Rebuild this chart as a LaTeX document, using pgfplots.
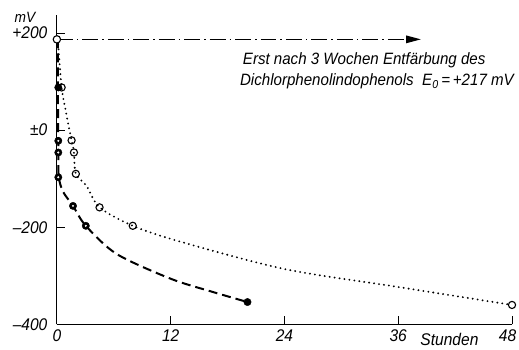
\documentclass[border=0pt]{standalone}
\usepackage{fontspec}
\setmainfont{Liberation Sans}[FakeStretch=0.92]
\usepackage{pgfplots}
\pgfplotsset{compat=1.18}
\usetikzlibrary{arrows.meta,plotmarks}
\begin{document}
\begin{tikzpicture}
\path[use as bounding box] (-57bp,-25bp) rectangle (463bp,325bp);
\begin{axis}[
  at={(0,0)}, anchor=south west,
  x=9.5bp, y=0.4865bp,
  xmin=0, xmax=48, ymin=-400, ymax=238,
  axis lines=left,
  axis line style={-, line width=1.2bp},
  xtick={0,12,24,36,48}, xticklabels={0,12,24,36,{\kern-9bp 48}},
  ytick={-400,-200,0,200}, yticklabels={–400,–200,±0,+200},
  tick align=inside, major tick length=8bp,
  tick style={line width=1bp, black},
  xticklabel style={yshift=-2bp},
  yticklabel style={xshift=-6bp},
  ticklabel style={font=\fontsize{17}{20}\selectfont\itshape},
  clip=false,
]
% dash-dot arrow
\addplot[black, line width=1.5bp, dash pattern=on 16bp off 4bp on 1.5bp off 4bp,
  -{Triangle[length=15bp,width=7.5bp]}] coordinates {(0,187) (38.4,187)};
% dashed curve (filled series)
\addplot[black, line width=2bp, dash pattern=on 9bp off 5bp, smooth, tension=0.5]
  coordinates {(0.1,187) (0.1,88) (0.15,-22) (0.15,-46) (0.2,-97) (0.66,-127)
  (1.7,-156) (3.05,-197) (6.3,-255) (12,-306) (16.4,-333) (20.1,-354)};
% dotted curve (open series)
\addplot[black, line width=2.1bp, line cap=round, dash pattern=on 0bp off 5bp, smooth, tension=0.5]
  coordinates {(0.1,187) (0.5,88) (1.0,33) (1.3,2) (1.55,-21) (1.8,-46) (2.0,-90)
  (3.1,-114) (4.5,-159) (8,-197) (12.9,-229) (24,-286) (36,-323) (48,-360)};
% filled marks
\addplot[only marks, mark=*, mark size=3.7bp, black]
  coordinates {(0.15,88) (0.15,-22) (0.15,-46) (0.15,-97) (1.7,-156) (3.05,-197) (20.1,-354)};
\addplot[only marks, mark=*, mark size=0.8bp, white]
  coordinates {(0.15,-22) (0.15,-46) (0.15,-97) (1.7,-156) (3.05,-197)};
% open marks
\addplot[only marks, mark=o, mark size=3.6bp, mark options={fill=white, line width=1.1bp}, black]
  coordinates {(0.5,88) (1.55,-21) (1.8,-46) (2.0,-90) (4.5,-159) (8,-197) (48,-360)};
% half-filled top mark
\addplot[only marks, mark=halfcircle*, mark size=3.7bp, mark options={rotate=90, fill=white, line width=1.1bp}, black]
  coordinates {(0,187)};
% texts
\node[anchor=base west, inner sep=0pt, font=\fontsize{16.5}{19}\selectfont\itshape]
  at (axis cs:19.6,136) {Erst nach 3 Wochen Entfärbung des};
\node[anchor=base west, inner sep=0pt, font=\fontsize{16.5}{19}\selectfont\itshape]
  at (axis cs:19.3,91) {Dichlorphenolindophenols\ \ E\textsubscript{0}\,=\,+217 mV};
\node[font=\fontsize{15}{18}\selectfont\itshape, inner sep=0pt] at (axis cs:-3.37,232) {mV};
\node[font=\fontsize{17}{20}\selectfont\itshape, inner sep=0pt, yshift=-15bp] at (axis cs:41.4,-400) {Stunden};
\end{axis}
\end{tikzpicture}
\end{document}
